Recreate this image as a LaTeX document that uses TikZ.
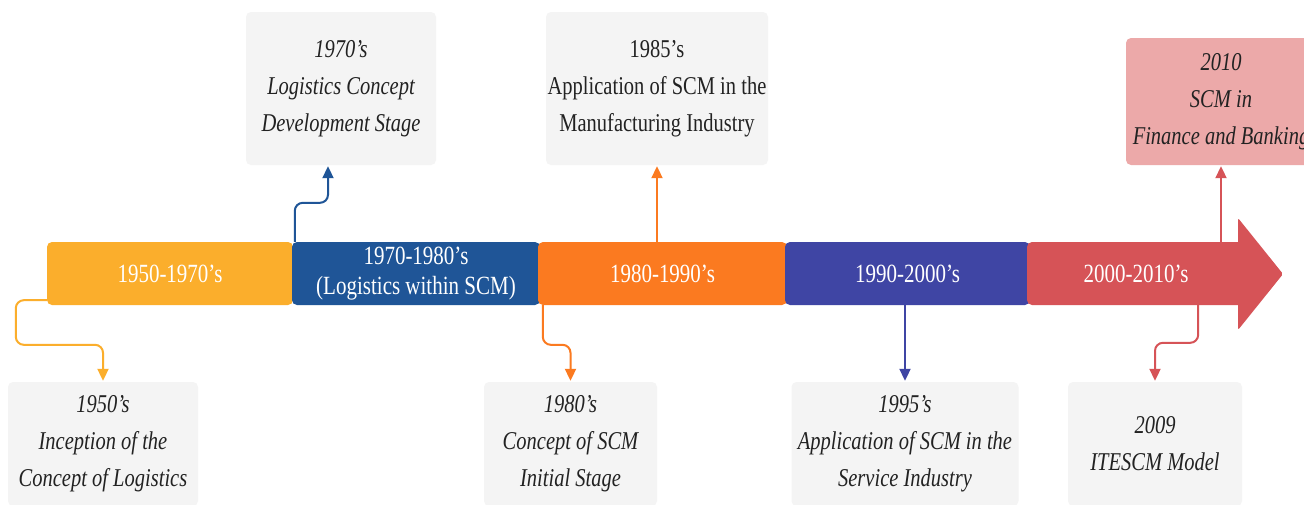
\documentclass[tikz,border=0pt]{standalone}
\usepackage{graphicx}
\usepackage{fontspec}
\setmainfont{Liberation Serif}
\usetikzlibrary{positioning,arrows.meta,calc}
\definecolor{amber}{HTML}{FBAE2C}
\definecolor{steelblue}{HTML}{1F5597}
\definecolor{tangerine}{HTML}{FB7A20}
\definecolor{indigo}{HTML}{3F45A4}
\definecolor{brickred}{HTML}{D65357}
\definecolor{blush}{HTML}{ECA9A9}
\definecolor{cardgray}{HTML}{F4F4F4}
\definecolor{ink}{HTML}{222222}
% taller letters, as in the original figure
\newcommand{\tall}[1]{\scalebox{1}[1.25]{#1}}

\begin{document}
\begin{tikzpicture}[
    x=1pt, y=-1pt,
    era/.style={rounded corners=5pt, minimum height=63pt, inner sep=0pt, text=white, align=center, font=\fontsize{21}{30}\selectfont},
    card/.style={fill=cardgray, rounded corners=5pt, inner sep=0pt, align=center, text=ink, font=\fontsize{20.5}{37}\selectfont\itshape},
    link/.style={line width=2pt, rounded corners=8pt, shorten >=1pt, -{Triangle[length=12pt,width=11pt]}}
]
    % Frame of the picture
    \clip (0,0) rectangle (1304,504);
    \fill[white] (0,0) rectangle (1304,504);

    % Timeline bar, one segment per era
    \node[era, fill=amber, minimum width=246pt] (p1) at (170,273.5) {\tall{1950-1970's}};
    \node[era, fill=steelblue, minimum width=248pt] (p2) at (416,273.5) {\tall{1970-1980's}\\\tall{(Logistics within SCM)}};
    \node[era, fill=tangerine, minimum width=249pt] (p3) at (662.5,273.5) {\tall{1980-1990's}};
    \node[era, fill=indigo, minimum width=245pt] (p4) at (907.5,273.5) {\tall{1990-2000's}};
    \fill[brickred, rounded corners=2pt] (1238,218) -- (1283,274) -- (1238,330) -- cycle;
    \node[era, fill=brickred, minimum width=218pt] (p5) at (1136,273.5) {\tall{2000-2010's}};

    % Milestone cards above the bar
    \node[card, minimum width=190pt, minimum height=153pt] (b1970) at (341,88.5) {\tall{1970's}\\\tall{Logistics Concept}\\\tall{Development Stage}};
    \node[card, minimum width=222pt, minimum height=153pt, font=\fontsize{20.5}{37}\selectfont\upshape] (b1985) at (657,88.5) {\tall{1985's}\\\tall{Application of SCM in the}\\\tall{Manufacturing Industry}};
    \node[card, fill=blush, minimum width=190pt, minimum height=127pt] (b2010) at (1221,101.5) {\tall{2010}\\\tall{SCM in}\\\tall{Finance and Banking}};

    % Milestone cards below the bar
    \node[card, minimum width=190pt, minimum height=124pt] (b1950) at (103,444) {\tall{1950's}\\\tall{Inception of the}\\\tall{Concept of Logistics}};
    \node[card, minimum width=173pt, minimum height=124pt] (b1980) at (570.5,444) {\tall{1980's}\\\tall{Concept of SCM}\\\tall{Initial Stage}};
    \node[card, minimum width=227pt, minimum height=124pt] (b1995) at (905,444) {\tall{1995's}\\\tall{Application of SCM in the}\\\tall{Service Industry}};
    \node[card, minimum width=174pt, minimum height=124pt] (b2009) at (1155,444) {\tall{2009}\\\tall{ITESCM Model}};

    % Connectors from the bar to the cards
    \draw[link, amber] ([yshift=5pt]p1.south west) -- ++(-31,0) |- ($(b1950.north)+(0,-37)$) -- (b1950.north);
    \draw[link, steelblue] ([xshift=3pt]p2.north west) -- ++(0,-39) -| ([xshift=-13pt]b1970.south);
    \draw[link, tangerine] (p3.north -| b1985.south) -- (b1985.south);
    \draw[link, tangerine] ([xshift=5pt]p3.south west) |- ($(b1980.north)+(0,-37)$) -- (b1980.north);
    \draw[link, indigo] (p4.south -| b1995.north) -- (b1995.north);
    \draw[link, brickred] (p5.north -| b2010.south) -- (b2010.south);
    \draw[link, brickred] ([xshift=-47pt]p5.south east) |- ($(b2009.north)+(0,-39)$) -- (b2009.north);

\end{tikzpicture}
\end{document}
